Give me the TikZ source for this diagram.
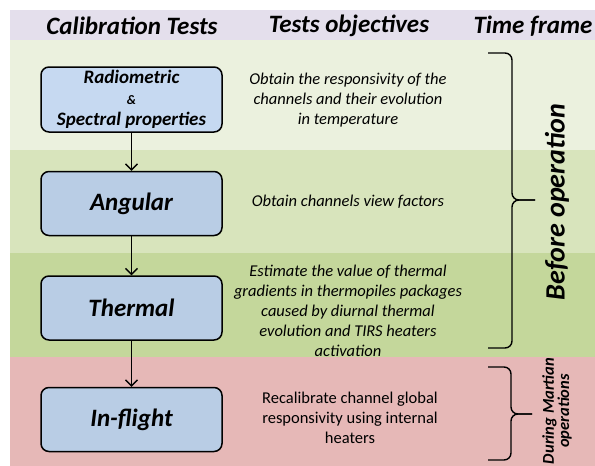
\documentclass[tikz,border=0pt]{standalone}
\usepackage{fontspec}
\setmainfont{Carlito}
\usetikzlibrary{positioning,arrows.meta}

\definecolor{headband}{HTML}{E4DFEC}
\definecolor{greenone}{HTML}{EBF1DE}
\definecolor{greentwo}{HTML}{D8E4BC}
\definecolor{greenthree}{HTML}{C4D79B}
\definecolor{pinkband}{HTML}{E6B8B7}
\definecolor{boxone}{HTML}{C6D9F1}
\definecolor{boxtwo}{HTML}{B9CDE5}

\newcommand{\tightskip}{\lineskiplimit=-100pt\relax}

\tikzset{
  testbox/.style={draw, line width=1.5pt, rounded corners=8pt, fill=boxtwo,
    minimum width=181pt, minimum height=64pt, align=center,
    font=\fontsize{25}{27}\selectfont\bfseries\itshape},
  head/.style={font=\fontsize{25}{28}\selectfont\bfseries\itshape},
  objective/.style={align=center, font=\fontsize{16.5}{20}\selectfont\itshape},
  flow/.style={-{Straight Barb[length=6pt,width=12pt]}, line width=1.3pt},
  bracket/.style={line width=1.4pt, rounded corners=7pt}
}

\begin{document}
\begin{tikzpicture}[x=1pt,y=1pt,node distance=38pt]
\useasboundingbox (0,-466) rectangle (595,0);

\fill[headband] (10,-10) rectangle (595,-40);
\fill[greenone] (10,-40) rectangle (595,-150);
\fill[greentwo] (10,-150) rectangle (595,-253);
\fill[greenthree] (10,-253) rectangle (595,-357);
\fill[pinkband] (10,-357) rectangle (595,-466);

\node[head] (h1) at (132,-26) {Calibration Tests};
\node[head] (h2) at (349,-26) {Tests objectives};
\node[head] (h3) at (533,-26) {Time frame};

\node[testbox, fill=boxone, minimum height=65pt, inner ysep=0pt,
  font=\fontsize{19}{21}\selectfont\tightskip\bfseries\itshape] (radio) at (131.5,-99.5)
  {Radiometric\\[0pt]{\fontsize{13}{14}\selectfont\&}\\[0pt]Spectral properties};
\node[testbox] (ang) [below=38pt of radio] {Angular};
\node[testbox] (therm) [below=39pt of ang] {Thermal};
\node[testbox] (flight) [below=46pt of therm] {In-flight};

\draw[flow] (radio) -- (ang);
\draw[flow] (ang) -- (therm);
\draw[flow] (therm) -- (flight);

\node[objective] (o1) at (348,-100) {Obtain the responsivity of the\\channels and their evolution\\in temperature};
\node[objective] (o2) at (348,-202) {Obtain channels view factors};
\node[objective] (o3) at (348,-311) {Estimate the value of thermal\\gradients in thermopiles packages\\caused by diurnal thermal\\evolution and TIRS heaters\\activation};
\node[objective, font=\fontsize{16.5}{20}\selectfont] (o4) at (350,-418) {Recalibrate channel global\\responsivity using internal\\heaters};

\coordinate (b1) at (488,-53);
\coordinate (b2) at (488,-348);
\coordinate (s1) at (512,-200);
\coordinate (m1) at (535,-200);
\coordinate (b3) at (488,-367);
\coordinate (b4) at (488,-460);
\coordinate (s2) at (511,-414);
\coordinate (m2) at (532,-414);
\draw[bracket] (b1) -| (s1) -- (m1);
\draw[bracket] (b2) -| (s1) -- (m1);
\draw[bracket] (b3) -| (s2) -- (m2);
\draw[bracket] (b4) -| (s2) -- (m2);

\node[rotate=90, font=\fontsize{28}{30}\selectfont\bfseries\itshape] (t1) at (557,-202) {Before operation};
\node[rotate=90, align=center, font=\fontsize{16.5}{14}\selectfont\bfseries\itshape] (t2) at (557,-411) {During Martian\\operations};
\end{tikzpicture}
\end{document}
